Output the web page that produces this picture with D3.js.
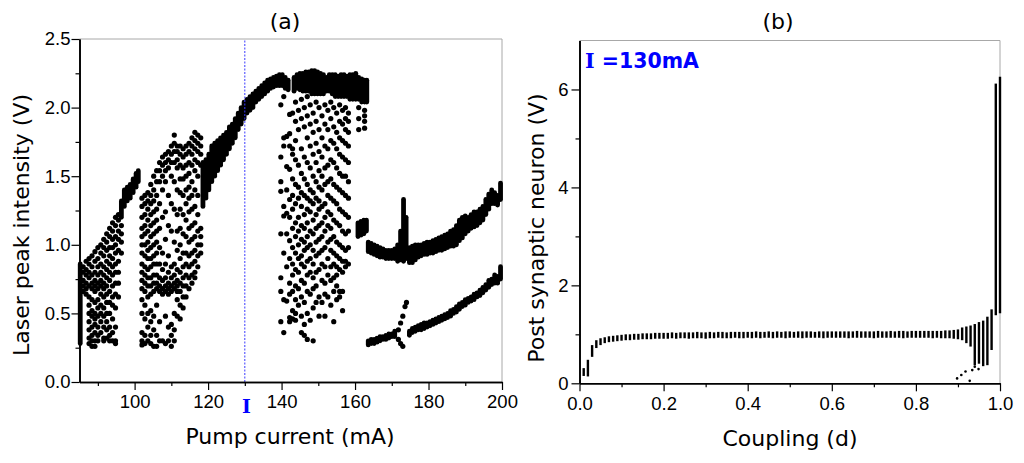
<!DOCTYPE html>
<html>
<head>
<meta charset="utf-8">
<script src="https://d3js.org/d3.v7.min.js"></script>
<style>
  body { margin: 0; background: #fff; }
  .tick text { font-family: "Liberation Sans", Arial, sans-serif; font-size: 18.5px; fill: #000; }
  .ttl { font-family: "DejaVu Sans", Verdana, sans-serif; font-size: 22px; fill: #000; }
</style>
</head>
<body>
<svg width="1024" height="463"></svg>
<script>
// ---------- panel (a): bifurcation vs pump current ----------
// continuous branches: [current mA, low V, high V]
var leftEdge = [[85.2, 0.28, 0.86]];
var rise1 = [[96.4,1.20,1.32],[97.2,1.28,1.40],[98,1.32,1.42],[98.8,1.34,1.44],[99.6,1.38,1.48],[100.4,1.42,1.52],[101,1.46,1.54]];
var mainBranch = [[118.6,1.28,1.60],[119.4,1.34,1.62],[120.2,1.40,1.66],[121,1.46,1.72],[121.8,1.50,1.74],[122.6,1.54,1.76],
  [123.4,1.58,1.78],[124.2,1.62,1.80],[125,1.66,1.82],[125.8,1.70,1.86],[126.6,1.74,1.88],[127.4,1.78,1.92],[128.2,1.84,1.96],
  [129,1.88,2.00],[129.8,1.92,2.04],[130.6,1.96,2.06],[131.4,1.98,2.08],[132.2,2.00,2.10],[133,2.04,2.12],[133.8,2.06,2.14],
  [134.6,2.08,2.16],[135.4,2.10,2.18],[136.2,2.12,2.20],[137,2.14,2.21],[137.8,2.15,2.22],[138.6,2.16,2.23],[139.4,2.16,2.24],
  [140.2,2.16,2.24],[141,2.14,2.22],[141.8,2.13,2.20]];
var topBand = [[143.4,2.12,2.22],[144.2,2.14,2.24],[145,2.13,2.25],[145.8,2.12,2.25],[146.6,2.12,2.26],[147.4,2.12,2.26],
  [148.2,2.10,2.27],[149,2.10,2.27],[149.8,2.10,2.26],[150.6,2.10,2.25],[151.4,2.10,2.24],[152.2,2.12,2.22],[153,2.12,2.24],
  [153.8,2.10,2.24],[154.6,2.08,2.24],[155.4,2.08,2.23],[156.2,2.08,2.24],[157,2.08,2.24],[157.8,2.08,2.23],[158.6,2.06,2.24],
  [159.4,2.06,2.24],[160.2,2.06,2.25],[161,2.06,2.22],[161.8,2.04,2.21],[162.6,2.04,2.20],[163.2,2.04,2.20]];
var blob = [[160.8,1.06,1.16],[161.6,1.07,1.17],[162.4,1.08,1.18],[163.1,1.10,1.18]];
var upperTail = [[163.6,0.95,1.02],[164.4,0.94,1.01],[165.2,0.93,1.00],[166,0.92,0.99],[166.8,0.91,0.98],[167.6,0.91,0.97],
  [168.4,0.90,0.96],[169.2,0.90,0.96],[170,0.90,0.96],[170.8,0.90,0.97],[171.6,0.88,1.00],[172.4,0.89,1.10],[173.2,0.88,1.33],
  [173.9,0.90,1.20],[174.8,0.87,0.98],[175.6,0.87,0.99],[176.4,0.89,1.00],[177.2,0.91,1.00],[178,0.92,1.00],[178.8,0.93,1.01],
  [179.6,0.93,1.02],[180.4,0.94,1.02],[181.2,0.94,1.03],[182,0.95,1.04],[182.8,0.96,1.05],[183.6,0.96,1.06],[184.4,0.97,1.07],
  [185.2,0.98,1.08],[186,0.99,1.10],[186.8,0.99,1.11],[187.6,1.00,1.14],[188.4,1.03,1.18],[189.2,1.05,1.20],[190,1.08,1.21],
  [190.8,1.10,1.20],[191.6,1.12,1.22],[192.4,1.13,1.24],[193.2,1.14,1.24],[194,1.16,1.26],[194.8,1.18,1.28],[195.6,1.22,1.33],
  [196.4,1.26,1.37],[197.2,1.30,1.40],[198,1.30,1.38],[198.8,1.29,1.36],[199.6,1.33,1.45]];
var lowerTail = [[163.6,0.27,0.30],[164.4,0.28,0.31],[165.2,0.28,0.31],[166,0.29,0.32],[166.8,0.30,0.33],[167.6,0.31,0.33],
  [168.4,0.31,0.34],[169.2,0.32,0.35],[170,0.33,0.35],[170.8,0.33,0.37],[174.8,0.34,0.37],[175.6,0.36,0.39],[176.4,0.37,0.40],
  [177.2,0.38,0.41],[178,0.38,0.42],[178.8,0.39,0.43],[179.6,0.40,0.43],[180.4,0.41,0.44],[181.2,0.42,0.45],[182,0.43,0.46],
  [182.8,0.44,0.47],[183.6,0.45,0.48],[184.4,0.46,0.49],[185.2,0.47,0.50],[186,0.48,0.52],[186.8,0.50,0.53],[187.6,0.51,0.55],
  [188.4,0.53,0.57],[189.2,0.55,0.58],[190,0.56,0.60],[190.8,0.58,0.61],[191.6,0.59,0.62],[192.4,0.60,0.64],[193.2,0.62,0.65],
  [194,0.63,0.67],[194.8,0.65,0.69],[195.6,0.67,0.71],[196.4,0.69,0.74],[197.2,0.71,0.75],[198,0.72,0.78],[198.8,0.72,0.77],
  [199.6,0.75,0.84]];

// chaotic columns: [current mA, [peak values V]]
var chaosCols = [
  [86,[0.84,0.80,0.74,0.70,0.66]],
  [86.8,[0.88,0.82,0.78,0.72,0.68,0.64]],
  [87.6,[0.90,0.86,0.80,0.76,0.70,0.62,0.56,0.50,0.44,0.38,0.32,0.28]],
  [88.4,[0.92,0.84,0.78,0.72,0.68,0.60,0.52,0.48,0.40,0.34,0.30,0.26]],
  [89.2,[0.95,0.88,0.80,0.74,0.70,0.66,0.58,0.50,0.46,0.42,0.36,0.30,0.26]],
  [90,[0.98,0.90,0.84,0.78,0.72,0.68,0.60,0.54,0.48,0.40,0.34,0.30]],
  [90.8,[1.00,0.94,0.86,0.80,0.74,0.70,0.64,0.56,0.50,0.44,0.36]],
  [91.6,[1.04,0.98,0.92,0.84,0.78,0.72,0.68,0.62,0.54,0.48,0.40,0.32,0.30]],
  [92.4,[1.08,1.02,0.96,0.88,0.82,0.76,0.70,0.64,0.58,0.50,0.44,0.38,0.32]],
  [93.2,[1.12,1.06,0.98,0.92,0.86,0.80,0.74,0.66,0.58,0.50,0.40,0.34,0.30]],
  [94,[1.16,1.10,1.04,0.98,0.90,0.84,0.78,0.70,0.62,0.56,0.46,0.36,0.30]],
  [94.8,[1.20,1.14,1.06,1.00,0.94,0.86,0.80,0.72,0.64,0.54,0.40,0.30,0.28]],
  [95.6,[1.22,1.18,1.10,1.04,0.96,0.88,0.80,0.72,0.62]],
  [96.4,[1.14,1.08,1.02,0.94]],
  [102,[1.34,1.28,1.20,1.12,1.06,1.00,0.94,0.86,0.80,0.74,0.68,0.60,0.50,0.36,0.30,0.27]],
  [102.8,[1.36,1.30,1.22,1.14,1.08,1.00,0.92,0.84,0.78,0.72,0.66,0.56,0.46,0.34,0.28]],
  [103.6,[1.38,1.32,1.26,1.18,1.10,1.02,0.96,0.90,0.82,0.76,0.70,0.62,0.50,0.40,0.30]],
  [104.4,[1.44,1.36,1.30,1.22,1.14,1.06,0.98,0.90,0.84,0.76,0.70,0.64,0.52,0.44,0.34,0.28]],
  [105.2,[1.50,1.40,1.32,1.24,1.16,1.08,1.00,0.92,0.86,0.78,0.72,0.66,0.48,0.38,0.26]],
  [106,[1.54,1.46,1.36,1.26,1.18,1.10,1.02,0.94,0.86,0.78,0.72,0.68,0.56,0.34,0.26]],
  [106.8,[1.60,1.54,1.46,1.30,1.12,0.98,0.86,0.76,0.70,0.66,0.44,0.30]],
  [107.6,[1.64,1.58,1.50,1.40,1.20,0.94,0.82,0.74,0.68,0.64,0.30]],
  [108.4,[1.66,1.60,1.54,1.46,1.24,1.04,0.86,0.76,0.70,0.66,0.48,0.28]],
  [109.2,[1.68,1.62,1.56,1.36,1.14,0.92,0.80,0.72,0.68,0.64,0.40,0.30]],
  [110,[1.72,1.66,1.60,1.50,1.30,1.10,0.84,0.76,0.70,0.66,0.42,0.34,0.26]],
  [110.8,[1.80,1.74,1.68,1.60,1.46,1.26,1.02,0.86,0.78,0.72,0.68,0.50,0.38,0.30]],
  [111.6,[1.72,1.68,1.62,1.56,1.40,1.22,1.10,0.96,0.82,0.74,0.70,0.66,0.60,0.48]],
  [112.4,[1.72,1.66,1.58,1.48,1.38,1.26,1.12,1.00,0.90,0.80,0.72,0.66,0.56,0.46]],
  [113.2,[1.70,1.64,1.56,1.48,1.36,1.22,1.08,0.94,0.84,0.76,0.70,0.62,0.54]],
  [114,[1.72,1.66,1.58,1.50,1.40,1.30,1.18,1.06,0.94,0.86,0.78,0.70,0.62]],
  [114.8,[1.74,1.68,1.60,1.52,1.42,1.34,1.24,1.12,1.02,0.92,0.84,0.76,0.68]],
  [115.6,[1.78,1.72,1.66,1.58,1.46,1.36,1.26,1.14,1.04,0.94,0.86,0.78,0.72]],
  [116.4,[1.82,1.76,1.70,1.62,1.54,1.40,1.28,1.16,1.06,0.96,0.88,0.80,0.76]],
  [117.2,[1.80,1.74,1.68,1.60,1.50,1.36,1.22,1.10,1.00,0.92,0.84]],
  [118,[1.78,1.72,1.66,1.58,1.12,1.06,1.00,0.94]],
  [139.8,[2.02,1.64,1.46,1.39,1.08,0.76,0.66,0.44]],
  [140.6,[2.08,1.78,1.72,1.28,1.21,0.94,0.60,0.36]],
  [141.4,[1.79,1.57,1.40,1.23,1.08,0.84,0.59]],
  [142.2,[1.95,1.81,1.72,1.55,1.33,1.20,1.03,0.90,0.72,0.64,0.47,0.44]],
  [143,[1.96,1.70,1.66,1.48,1.36,1.26,1.12,0.98,0.86,0.78,0.66,0.52,0.46]],
  [143.8,[2.04,1.90,1.76,1.62,1.44,1.30,1.16,1.06,0.94,0.82,0.70,0.60,0.50,0.45]],
  [144.6,[1.98,1.84,1.58,1.42,1.34,1.20,1.10,1.00,0.90,0.80,0.68,0.56]],
  [145.4,[2.06,1.92,1.70,1.52,1.38,1.28,1.14,1.04,0.92,0.86,0.74,0.62,0.48,0.36]],
  [146.2,[2.00,1.86,1.64,1.48,1.36,1.22,1.12,1.02,0.96,0.84,0.72,0.58,0.42,0.34]],
  [147,[2.08,1.94,1.78,1.60,1.44,1.34,1.26,1.16,1.06,0.98,0.88,0.78,0.66,0.50,0.31]],
  [147.8,[2.02,1.88,1.72,1.56,1.40,1.32,1.24,1.10,1.00,0.90,0.80,0.64,0.45]],
  [148.6,[1.96,1.82,1.66,1.50,1.38,1.30,1.18,1.08,0.96,0.86,0.76,0.68,0.54,0.30]],
  [149.4,[2.04,1.90,1.74,1.60,1.46,1.34,1.22,1.12,1.02,0.92,0.80,0.70,0.58]],
  [150.2,[2.00,1.84,1.68,1.54,1.42,1.32,1.26,1.14,1.04,0.94,0.82,0.62,0.48]],
  [151,[1.94,1.78,1.64,1.50,1.40,1.28,1.16,1.06,0.96,0.86,0.74,0.58]],
  [151.8,[2.02,1.88,1.72,1.56,1.44,1.30,1.20,1.10,0.98,0.84,0.72,0.64,0.48]],
  [152.6,[1.98,1.84,1.70,1.58,1.46,1.36,1.24,1.14,1.02,0.90,0.78,0.62]],
  [153.4,[2.04,1.92,1.76,1.62,1.48,1.34,1.22,1.12,1.04,0.96,0.84,0.74,0.56]],
  [154.2,[2.00,1.86,1.74,1.60,1.44,1.32,1.18,1.06,0.94,0.86,0.76,0.66,0.44]],
  [155,[1.96,1.82,1.70,1.56,1.42,1.30,1.16,1.02,0.92,0.84,0.78,0.70,0.60]],
  [155.8,[2.02,1.90,1.78,1.66,1.52,1.40,1.26,1.14,1.00,0.90,0.82,0.66,0.62]],
  [156.6,[1.98,1.88,1.76,1.64,1.50,1.38,1.24,1.10,0.98,0.88,0.80,0.66,0.52]],
  [157.4,[2.00,1.92,1.84,1.74,1.62,1.50,1.36,1.22,1.08,0.96,0.88,0.84]],
  [158.2,[1.96,1.90,1.82,1.72,1.60,1.46,1.34,1.20,1.10,0.98,0.86]],
  [161,[2.00,1.92,1.84]],
  [162.6,[1.98,1.94,1.90,1.85]],
  [171.8,[0.38,0.31]],
  [172.4,[0.43,0.28]],
  [173,[0.48,0.26]],
  [173.6,[0.55]],
  [174,[0.58]]
];

var xTicksA = [100, 120, 140, 160, 180, 200];
var xMinorA = [90, 110, 130, 150, 170, 190];
var yTicksA = [0, 0.5, 1.0, 1.5, 2.0, 2.5];
var yMinorA = [0.25, 0.75, 1.25, 1.75, 2.25];
var markedCurrent = 130;

// ---------- panel (b): post-synaptic response vs coupling ----------
var coupling = [0.01,0.02,0.03,0.04,0.05,0.06,0.07,0.08,0.09,0.10,0.11,0.12,0.13,0.14,0.15,0.16,0.17,0.18,0.19,0.20,
  0.21,0.22,0.23,0.24,0.25,0.26,0.27,0.28,0.29,0.30,0.31,0.32,0.33,0.34,0.35,0.36,0.37,0.38,0.39,0.40,
  0.41,0.42,0.43,0.44,0.45,0.46,0.47,0.48,0.49,0.50,0.51,0.52,0.53,0.54,0.55,0.56,0.57,0.58,0.59,0.60,
  0.61,0.62,0.63,0.64,0.65,0.66,0.67,0.68,0.69,0.70,0.71,0.72,0.73,0.74,0.75,0.76,0.77,0.78,0.79,0.80,
  0.81,0.82,0.83,0.84,0.85,0.86,0.87,0.88,0.89,0.90,0.91,0.92,0.93,0.94,0.95,0.96,0.97,0.98,0.99,1.00];
var postLo = [0.15,0.14,0.54,0.72,0.78,0.82,0.84,0.85,0.86,0.87,0.88,0.88,0.89,0.89,0.90,0.90,0.90,0.91,0.91,0.91,
  0.91,0.92,0.91,0.92,0.92,0.91,0.92,0.92,0.92,0.91,0.92,0.92,0.93,0.92,0.92,0.92,0.93,0.92,0.92,0.93,
  0.92,0.93,0.92,0.93,0.93,0.92,0.93,0.93,0.92,0.93,0.93,0.93,0.92,0.93,0.93,0.93,0.93,0.92,0.93,0.93,
  0.93,0.93,0.93,0.92,0.93,0.93,0.93,0.93,0.93,0.92,0.93,0.93,0.93,0.93,0.93,0.93,0.92,0.93,0.93,0.93,
  0.93,0.93,0.93,0.92,0.93,0.92,0.92,0.92,0.91,0.90,0.88,0.82,0.75,0.37,0.40,0.35,0.37,0.68,1.39,1.43];
var postHi = [0.31,0.48,0.78,0.88,0.92,0.94,0.96,0.97,0.98,0.99,1.00,1.00,1.01,1.01,1.02,1.02,1.02,1.03,1.03,1.03,
  1.03,1.04,1.03,1.04,1.04,1.04,1.04,1.05,1.04,1.04,1.05,1.04,1.05,1.05,1.04,1.05,1.05,1.05,1.05,1.05,
  1.05,1.06,1.05,1.05,1.06,1.05,1.06,1.05,1.06,1.06,1.05,1.06,1.06,1.06,1.06,1.05,1.06,1.06,1.06,1.06,
  1.06,1.06,1.06,1.06,1.06,1.07,1.06,1.06,1.06,1.06,1.07,1.06,1.06,1.07,1.06,1.07,1.07,1.06,1.07,1.07,
  1.07,1.07,1.07,1.07,1.07,1.07,1.08,1.08,1.09,1.10,1.14,1.16,1.18,1.21,1.25,1.28,1.36,1.51,6.12,6.26];
var strayD = [0.898, 0.908, 0.918, 0.928, 0.934, 0.940, 0.949];
var strayV = [0.10, 0.17, 0.24, 0.05, 0.27, 0.34, 0.29];

var xTicksB = [0, 0.2, 0.4, 0.6, 0.8, 1.0];
var xMinorB = [0.1, 0.3, 0.5, 0.7, 0.9];
var yTicksB = [0, 2, 4, 6];
var yMinorB = [1, 3, 5];

var svg = d3.select("svg");

function styleAxis(g) {
  g.select(".domain").attr("stroke", "#000").attr("stroke-width", 1.6);
  g.selectAll(".tick line").attr("stroke", "#000").attr("stroke-width", 1.2);
}

function frame(g, x, y) {
  var x0 = x.range()[0], x1 = x.range()[1], y0 = y.range()[0], y1 = y.range()[1];
  g.append("path")
    .attr("d", "M" + x0 + "," + y1 + "H" + x1 + "V" + y0)
    .attr("fill", "none").attr("stroke", "#a8a8a8").attr("stroke-width", 1);
}

function axes(g, x, y, xt, xm, yt, ym, xfmt, yfmt, padX, padY) {
  var y0 = y.range()[0], x0 = x.range()[0];
  g.append("g").attr("transform", "translate(0," + y0 + ")")
    .call(d3.axisBottom(x).tickValues(xm).tickSize(4).tickSizeOuter(0).tickFormat(""))
    .call(styleAxis);
  g.append("g").attr("transform", "translate(0," + y0 + ")")
    .call(d3.axisBottom(x).tickValues(xt).tickSize(8).tickSizeOuter(0).tickPadding(padX).tickFormat(xfmt))
    .call(styleAxis);
  g.append("g").attr("transform", "translate(" + x0 + ",0)")
    .call(d3.axisLeft(y).tickValues(ym).tickSize(4).tickSizeOuter(0).tickFormat(""))
    .call(styleAxis);
  g.append("g").attr("transform", "translate(" + x0 + ",0)")
    .call(d3.axisLeft(y).tickValues(yt).tickSize(8).tickSizeOuter(0).tickPadding(padY).tickFormat(yfmt))
    .call(styleAxis);
}

// ----- panel (a)
var xA = d3.scaleLinear().domain([85, 200]).range([79.5, 502]);
var yA = d3.scaleLinear().domain([0, 2.5]).range([382, 39]);
var gA = svg.append("g");
frame(gA, xA, yA);

var bands = [].concat(leftEdge, rise1, mainBranch, topBand, blob, upperTail, lowerTail);
gA.append("g").selectAll("line").data(bands).enter().append("line")
  .attr("x1", function(d) { return xA(d[0]); })
  .attr("x2", function(d) { return xA(d[0]); })
  .attr("y1", function(d) { return yA(d[1]); })
  .attr("y2", function(d) { return yA(d[2]); })
  .attr("stroke", "#000").attr("stroke-width", 4.8).attr("stroke-linecap", "round");

var dots = [];
chaosCols.forEach(function(c) { c[1].forEach(function(v) { dots.push([c[0], v]); }); });
gA.append("g").selectAll("circle").data(dots).enter().append("circle")
  .attr("cx", function(d) { return xA(d[0]); })
  .attr("cy", function(d) { return yA(d[1]); })
  .attr("r", 2.6).attr("fill", "#000");

gA.append("line")
  .attr("x1", xA(markedCurrent)).attr("x2", xA(markedCurrent))
  .attr("y1", yA(0)).attr("y2", yA(2.5))
  .attr("stroke", "#3a3aff").attr("stroke-width", 1).attr("stroke-dasharray", "2,1.5");

axes(gA, xA, yA, xTicksA, xMinorA, yTicksA, yMinorA, d3.format("d"), d3.format(".1f"), 5, 1);

gA.append("text").attr("class", "ttl").attr("x", 285).attr("y", 29).attr("text-anchor", "middle").text("(a)");
gA.append("text").attr("class", "ttl").attr("x", 290).attr("y", 444).attr("text-anchor", "middle").text("Pump current (mA)");
gA.append("text").attr("class", "ttl").attr("text-anchor", "middle")
  .attr("transform", "translate(29,225) rotate(-90)").text("Laser peak intensity (V)");
gA.append("text").attr("x", xA(markedCurrent) + 1.5).attr("y", 413).attr("text-anchor", "middle")
  .attr("font-family", "DejaVu Serif").attr("font-weight", "bold").attr("font-size", 19).attr("fill", "#0000ff")
  .text("I");

// ----- panel (b)
var xB = d3.scaleLinear().domain([0, 1]).range([579.5, 1000]);
var yB = d3.scaleLinear().domain([0, 7]).range([383.3, 40.5]);
var gB = svg.append("g");
frame(gB, xB, yB);

gB.append("g").selectAll("rect").data(coupling).enter().append("rect")
  .attr("x", function(d) { return xB(d) - 1.2; })
  .attr("width", 2.4)
  .attr("y", function(d, i) { return yB(postHi[i]); })
  .attr("height", function(d, i) { return yB(postLo[i]) - yB(postHi[i]); })
  .attr("fill", "#000");

gB.append("g").selectAll("circle").data(strayD).enter().append("circle")
  .attr("cx", function(d) { return xB(d); })
  .attr("cy", function(d, i) { return yB(strayV[i]); })
  .attr("r", 1.3).attr("fill", "#000");

axes(gB, xB, yB, xTicksB, xMinorB, yTicksB, yMinorB, d3.format(".1f"), d3.format("d"), 6, 3);

gB.append("text").attr("class", "ttl").attr("x", 778).attr("y", 29).attr("text-anchor", "middle").text("(b)");
gB.append("text").attr("class", "ttl").attr("x", 790).attr("y", 446).attr("text-anchor", "middle").text("Coupling (d)");
gB.append("text").attr("class", "ttl").attr("text-anchor", "middle")
  .attr("transform", "translate(544,228) rotate(-90)").text("Post synaptic neuron (V)");

var lab = gB.append("text").attr("x", 585).attr("y", 68)
  .attr("font-family", "DejaVu Sans").attr("font-weight", "bold").attr("font-size", 20.5).attr("fill", "#0000ff");
lab.append("tspan").attr("font-family", "DejaVu Serif").text("I");
lab.append("tspan").text(" =130mA");
</script>
</body>
</html>
